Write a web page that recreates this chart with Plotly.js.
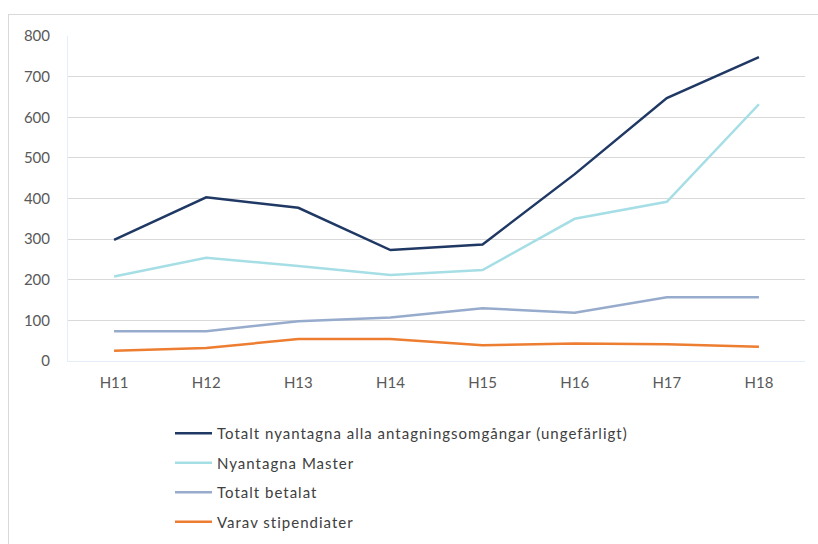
<!DOCTYPE html>
<html>
<head>
<meta charset="utf-8">
<script src="https://cdn.plot.ly/plotly-3.0.1.min.js"></script>
<style>
html,body{margin:0;padding:0;background:#fff;}
#wrap{position:relative;width:818px;height:544px;}
#chart{width:818px;height:544px;}
#frame{position:absolute;left:8px;top:14px;right:0;bottom:0;border-left:1px solid #d9d9d9;border-top:1px solid #d9d9d9;pointer-events:none;}
.legendtext{letter-spacing:1px;}
</style>
</head>
<body>
<div id="wrap"><div id="chart"></div><div id="frame"></div></div>
<script>
const categories = ["H11","H12","H13","H14","H15","H16","H17","H18"];
const seriesNames = [
  "Totalt nyantagna alla antagningsomgångar (ungefärligt)",
  "Nyantagna Master",
  "Totalt betalat",
  "Varav stipendiater"
];
const totaltNyantagna = [298, 403, 377, 273, 287, 460, 647, 748];
const nyantagnaMaster = [208, 254, 234, 212, 224, 350, 392, 632];
const totaltBetalat = [73, 73, 98, 107, 130, 119, 157, 157];
const varavStipendiater = [25, 32, 54, 54, 39, 43, 41, 35];
const yTicks = [0, 100, 200, 300, 400, 500, 600, 700, 800];

const colors = ["#1f3864", "#a6dee6", "#97abcc", "#ed7d31"];
const allValues = [totaltNyantagna, nyantagnaMaster, totaltBetalat, varavStipendiater];

const traces = allValues.map((vals, i) => ({
  type: "scatter",
  mode: "lines",
  x: categories,
  y: vals,
  name: seriesNames[i],
  legendgroup: "g" + i,
  line: {color: colors[i], width: 2.5},
  hoverinfo: "x+y"
}));

const layout = {
  width: 818,
  height: 544,
  margin: {l: 68, r: 13, t: 36, b: 183, autoexpand: false},
  paper_bgcolor: "#ffffff",
  plot_bgcolor: "#ffffff",
  font: {family: "Lato, 'Open Sans', sans-serif", color: "#595959", size: 15},
  xaxis: {
    type: "category",
    range: [-0.5, 7.5],
    showgrid: false,
    showline: true,
    linecolor: "#e4eef8",
    linewidth: 1,
    ticks: "",
    ticklabelstandoff: 8,
    tickfont: {size: 15, color: "#595959"},
    zeroline: false,
    fixedrange: true
  },
  yaxis: {
    range: [0, 800],
    tickvals: yTicks,
    ticktext: yTicks.map(String),
    showgrid: true,
    gridcolor: "#d9d9d9",
    gridwidth: 1,
    zeroline: true,
    zerolinecolor: "#d9d9d9",
    zerolinewidth: 1,
    showline: true,
    linecolor: "#e4eef8",
    ticks: "",
    ticklabelstandoff: 14,
    tickfont: {size: 15, color: "#595959"},
    fixedrange: true
  },
  showlegend: true,
  legend: {
    orientation: "v",
    xref: "container",
    yref: "container",
    x: 170 / 818,
    xanchor: "left",
    y: 1 - 417 / 544,
    yanchor: "top",
    traceorder: "grouped",
    tracegroupgap: 7,
    font: {size: 15, color: "#404040"},
    bgcolor: "rgba(0,0,0,0)",
    itemwidth: 37
  }
};

Plotly.newPlot("chart", traces, layout, {displayModeBar: false, staticPlot: true});
</script>
</body>
</html>
